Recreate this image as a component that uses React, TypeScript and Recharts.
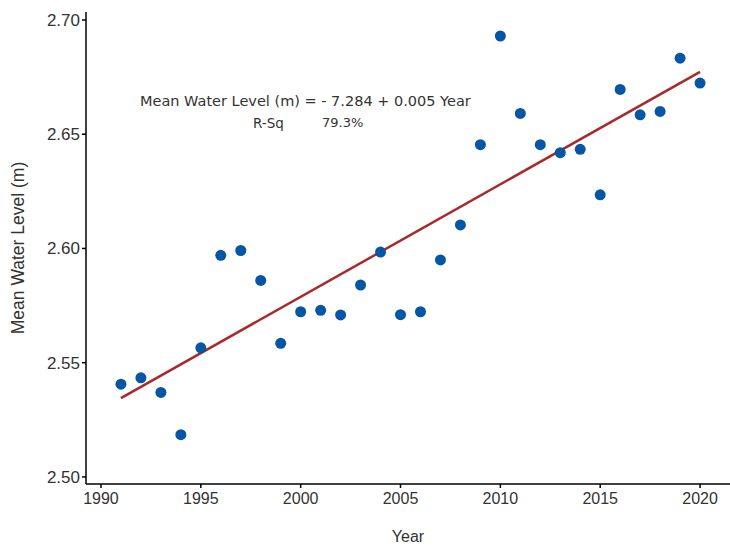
import React from 'react';
import {
  ScatterChart,
  Scatter,
  XAxis,
  YAxis,
  Label,
} from 'recharts';

// observed annual means
const years = [
  1991, 1992, 1993, 1994, 1995, 1996, 1997, 1998, 1999, 2000,
  2001, 2002, 2003, 2004, 2005, 2006, 2007, 2008, 2009, 2010,
  2011, 2012, 2013, 2014, 2015, 2016, 2017, 2018, 2019, 2020,
];
const levels = [
  2.5406, 2.5434, 2.537, 2.5185, 2.5565, 2.597, 2.5991, 2.586, 2.5585, 2.5723,
  2.5729, 2.5709, 2.584, 2.5984, 2.571, 2.5723, 2.595, 2.6103, 2.6454, 2.693,
  2.6591, 2.6454, 2.6419, 2.6434, 2.6235, 2.6696, 2.6585, 2.66, 2.6833, 2.6724,
];

// fitted line end points
const trendYears = [1991, 2020];
const trendLevels = [2.5345, 2.6773];

const xTicks = [1990, 1995, 2000, 2005, 2010, 2015, 2020];
const yTicks = [2.5, 2.55, 2.6, 2.65, 2.7];

const points = years.map((y, i) => ({ year: y, level: levels[i] }));
const trend = trendYears.map((y, i) => ({ year: y, level: trendLevels[i] }));

const font = '"Liberation Sans", Arial, sans-serif';
const noteFont = '"DejaVu Sans", sans-serif';
const textColor = '#333333';

const Dot = (props: any) => {
  const { cx, cy } = props;
  if (cx == null || cy == null) return <g />;
  return <circle cx={cx} cy={cy} r={5.5} fill="#0656a6" />;
};

const note: React.CSSProperties = {
  position: 'absolute',
  whiteSpace: 'nowrap',
  fontFamily: noteFont,
  color: textColor,
  lineHeight: '20px',
};

export default function App() {
  return (
    <div style={{ position: 'absolute', left: 0, top: 0, width: 730, height: 550, background: '#fff' }}>
      <ScatterChart
        width={730}
        height={550}
        margin={{ top: 12, right: 0, bottom: 0, left: 0 }}
      >
        <XAxis
          type="number"
          dataKey="year"
          domain={[1989.25, 2021.5]}
          ticks={xTicks}
          allowDataOverflow
          height={66}
          stroke="#000"
          strokeWidth={1.5}
          tickSize={4}
          tick={{ fill: textColor, fontSize: 16, fontFamily: font, dy: 3 }}
        >
          <Label
            value="Year"
            position="insideBottom"
            offset={8}
            style={{ fill: textColor, fontSize: 16, fontFamily: font }}
          />
        </XAxis>
        <YAxis
          type="number"
          dataKey="level"
          domain={[2.4969, 2.7035]}
          ticks={yTicks}
          allowDataOverflow
          width={86}
          stroke="#000"
          strokeWidth={1.5}
          tickSize={4}
          tickFormatter={(v: number) => v.toFixed(2)}
          tick={{ fill: textColor, fontSize: 17, fontFamily: font }}
        >
          <Label
            value="Mean Water Level (m)"
            angle={-90}
            position="insideLeft"
            offset={12}
            dx={6}
            style={{ fill: textColor, fontSize: 17.5, fontFamily: font, textAnchor: 'middle' }}
          />
        </YAxis>
        <Scatter
          data={trend}
          line={{ stroke: '#a8292a', strokeWidth: 2.5 }}
          shape={() => <g />}
          isAnimationActive={false}
        />
        <Scatter data={points} shape={Dot} isAnimationActive={false} />
      </ScatterChart>
      <div style={{ ...note, left: 140, top: 91, fontSize: 14.5 }}>
        Mean Water Level (m) = - 7.284 + 0.005 Year
      </div>
      <div style={{ ...note, left: 253, top: 113, fontSize: 13.5 }}>R-Sq</div>
      <div style={{ ...note, left: 322, top: 113, fontSize: 13 }}>79.3%</div>
    </div>
  );
}
